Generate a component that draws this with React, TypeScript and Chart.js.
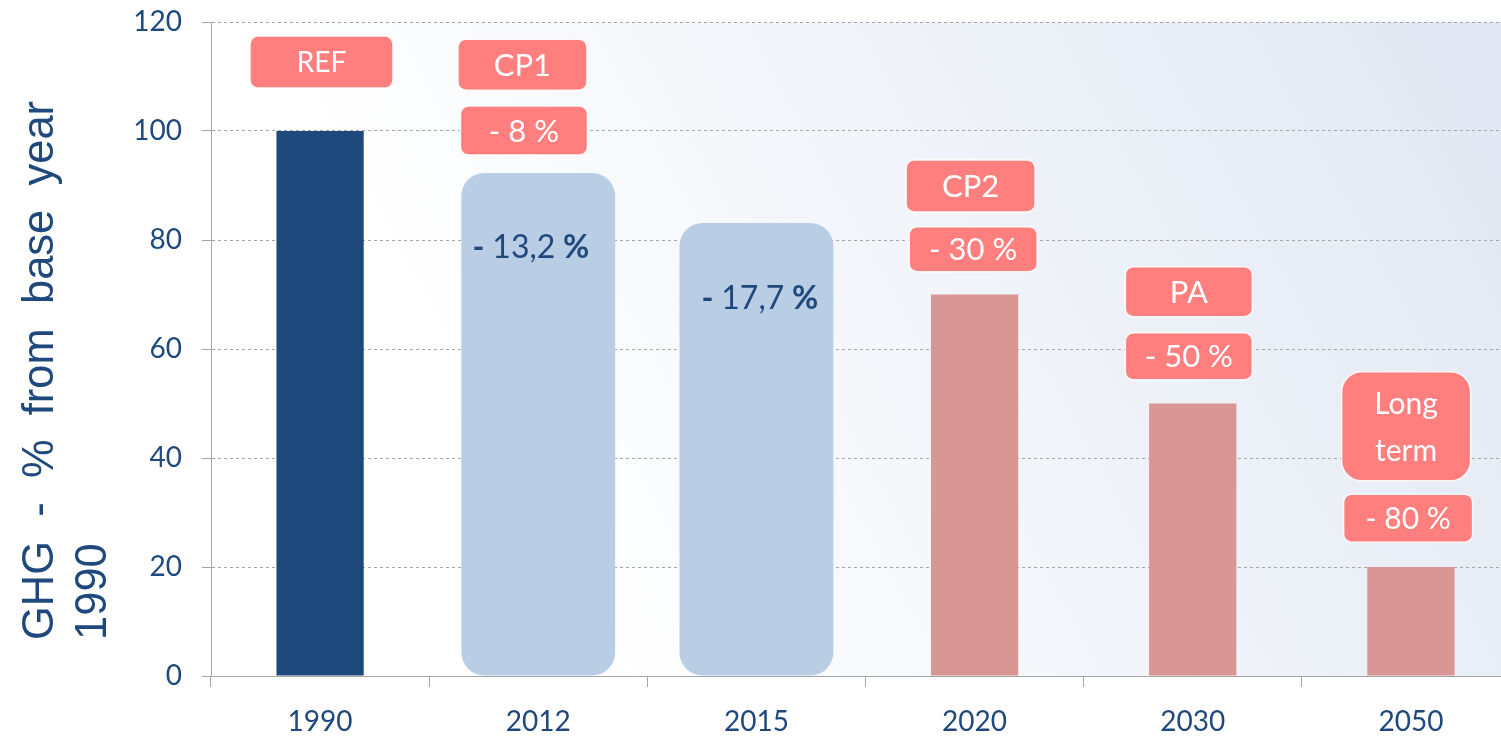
import { useEffect, useRef } from 'react';
import { Chart, registerables } from 'chart.js';

Chart.register(...registerables);

// ---------- data ----------
const categories = ['1990', '2012', '2015', '2020', '2030', '2050'];
const targetValues = [100, null, null, 70, 50, 20];
const achievedValues = [null, 92.3, 83.1, null, null, null];
const yTickValues = [0, 20, 40, 60, 80, 100, 120];
const stageLabels = [['REF'], ['CP1'], null, ['CP2'], ['PA'], ['Long', 'term']];
const targetLabels = [null, '- 8 %', null, '- 30 %', '- 50 %', '- 80 %'];
const achievedLabels = [null, ['- ', '13,2', ' %'], ['- ', '17,7', ' %'], null, null, null];
const yTitleLines = ['GHG  -  %  from  base  year', '1990'];

// ---------- styles ----------
const NAVY = '#1F497D';
const ROSE = '#D99694';
const LIGHT_BLUE = '#B9CDE5';
const SALMON = '#FF7F7F';
const GRID = '#A6A6A6';
const TEXT_BLUE = '#1F497D';
const FONT = "Lato, 'Open Sans', sans-serif";
const targetColors = [NAVY, ROSE, ROSE, ROSE, ROSE, ROSE];

// annotation placement (value = vertical centre in data units, dx = pixel shift from category centre)
const stageBoxLayout = [
  { v: 112.66, dx: 1.4, w: 143, h: 52, r: 8, size: 28 },
  { v: 112.17, dx: -15.8, w: 129, h: 51, r: 8, size: 31 },
  null,
  { v: 89.91, dx: -4, w: 129, h: 52, r: 8, size: 31 },
  { v: 70.51, dx: -3.9, w: 127, h: 50, r: 8, size: 31 },
  { v: 45.82, dx: -4.8, w: 129, h: 109, r: 20, size: 30, lineGap: 47 },
];
const targetBoxLayout = [
  null,
  { v: 100.09, dx: -14.3, w: 127, h: 49, r: 8, size: 31 },
  null,
  { v: 78.31, dx: -1.4, w: 128, h: 45, r: 8, size: 31 },
  { v: 58.66, dx: -3.9, w: 127, h: 47, r: 8, size: 31 },
  { v: 28.95, dx: -2.8, w: 129, h: 48, r: 8, size: 30 },
];
const achievedTextLayout = [null, { v: 78.81, dx: -7.3 }, { v: 69.45, dx: 3.5 }, null, null, null];

const CAP = 0.358; // half cap-height ratio

function drawBox(ctx: CanvasRenderingContext2D, cx: number, cy: number, lay: any, lines: string[]) {
  ctx.save();
  ctx.beginPath();
  ctx.roundRect(cx - lay.w / 2, cy - lay.h / 2, lay.w, lay.h, lay.r);
  ctx.fillStyle = SALMON;
  ctx.fill();
  ctx.lineWidth = 1.5;
  ctx.strokeStyle = 'rgba(255,255,255,0.9)';
  ctx.stroke();
  ctx.fillStyle = '#FFFFFF';
  ctx.font = `${lay.size}px ${FONT}`;
  ctx.textAlign = 'center';
  ctx.textBaseline = 'alphabetic';
  const gap = lay.lineGap || lay.size * 1.2;
  const n = lines.length;
  lines.forEach((t, i) => {
    const off = (i - (n - 1) / 2) * gap;
    ctx.fillText(t, cx, cy + off + CAP * lay.size);
  });
  ctx.restore();
}

const annotationPlugin = {
  id: 'annotations',
  beforeDraw(chart: any) {
    const { ctx, chartArea } = chart;
    const g = ctx.createLinearGradient(600, chartArea.bottom, 1520, chartArea.top + 150);
    g.addColorStop(0, '#FFFFFF');
    g.addColorStop(1, '#E2E8F3');
    ctx.save();
    ctx.fillStyle = g;
    ctx.fillRect(chartArea.left, chartArea.top, chartArea.right - chartArea.left, chartArea.bottom - chartArea.top);
    ctx.restore();

    // y-axis title
    ctx.save();
    ctx.fillStyle = TEXT_BLUE;
    ctx.font = `43.5px 'Liberation Sans', Arial, sans-serif`;
    ctx.textAlign = 'left';
    ctx.textBaseline = 'alphabetic';
    const baseX = [53, 106];
    yTitleLines.forEach((t, i) => {
      ctx.save();
      ctx.translate(baseX[i], 640);
      ctx.rotate(-Math.PI / 2);
      ctx.fillText(t, 0, 0);
      ctx.restore();
    });
    ctx.restore();
  },
  afterDatasetsDraw(chart: any) {
    const { ctx } = chart;
    const xs = chart.scales.x;
    const ys = chart.scales.y;
    categories.forEach((_, i) => {
      const xc = xs.getPixelForValue(i);
      const sl = stageBoxLayout[i];
      if (sl && stageLabels[i]) drawBox(ctx, xc + sl.dx, ys.getPixelForValue(sl.v), sl, stageLabels[i] as string[]);
      const tl = targetBoxLayout[i];
      if (tl && targetLabels[i]) drawBox(ctx, xc + tl.dx, ys.getPixelForValue(tl.v), tl, [targetLabels[i] as string]);
      const al = achievedTextLayout[i];
      const parts = achievedLabels[i];
      if (al && parts) {
        const size = 32;
        const fonts = [`bold ${size}px ${FONT}`, `${size}px ${FONT}`, `bold ${size}px ${FONT}`];
        ctx.save();
        ctx.fillStyle = TEXT_BLUE;
        ctx.textAlign = 'left';
        ctx.textBaseline = 'alphabetic';
        const widths = parts.map((p, k) => {
          ctx.font = fonts[k];
          return ctx.measureText(p).width;
        });
        const total = widths.reduce((a, b) => a + b, 0);
        let x = xc + al.dx - total / 2;
        const y = ys.getPixelForValue(al.v) + CAP * size;
        parts.forEach((p, k) => {
          ctx.font = fonts[k];
          ctx.fillText(p, x, y);
          x += widths[k];
        });
        ctx.restore();
      }
    });
  },
};

export default function App() {
  const ref = useRef<HTMLCanvasElement>(null);
  useEffect(() => {
    const canvas = ref.current!;
    const chart = new Chart(canvas, {
      type: 'bar',
      data: {
        labels: categories,
        datasets: [
          {
            data: targetValues as any,
            backgroundColor: targetColors,
            barPercentage: 0.4,
            categoryPercentage: 1,
            grouped: false,
          } as any,
          {
            data: achievedValues as any,
            backgroundColor: LIGHT_BLUE,
            barPercentage: 0.705,
            categoryPercentage: 1,
            borderRadius: 23,
            borderSkipped: false,
            grouped: false,
          } as any,
        ],
      },
      options: {
        responsive: true,
        maintainAspectRatio: false,
        animation: false,
        layout: { padding: { top: 22, right: 1, left: 0, bottom: 0 } },
        plugins: { legend: { display: false }, tooltip: { enabled: false } },
        scales: {
          x: {
            grid: { drawOnChartArea: false, tickLength: 11, color: GRID },
            border: { color: GRID, width: 1 },
            ticks: { font: { family: FONT, size: 28 }, color: TEXT_BLUE, padding: 18, maxRotation: 0 },
            afterFit: (s: any) => {
              s.height = 61;
            },
          },
          y: {
            min: 0,
            max: 120,
            afterBuildTicks: (s: any) => {
              s.ticks = yTickValues.map((v) => ({ value: v }));
            },
            grid: { color: GRID, tickLength: 9, lineWidth: 1 },
            border: { color: GRID, width: 1, dash: [3, 3] },
            ticks: { font: { family: FONT, size: 28 }, color: TEXT_BLUE, padding: 20 },
            afterFit: (s: any) => {
              s.width = 211;
              s.paddingTop = 17;
              s.paddingBottom = 17;
            },
          },
        },
      },
      plugins: [annotationPlugin],
    });
    return () => chart.destroy();
  }, []);
  return (
    <div style={{ position: 'fixed', left: 0, top: 0, width: 1501, height: 737, overflow: 'hidden', background: '#FFFFFF' }}>
      <div style={{ position: 'relative', width: 1521, height: 737 }}>
        <canvas ref={ref} />
      </div>
    </div>
  );
}
